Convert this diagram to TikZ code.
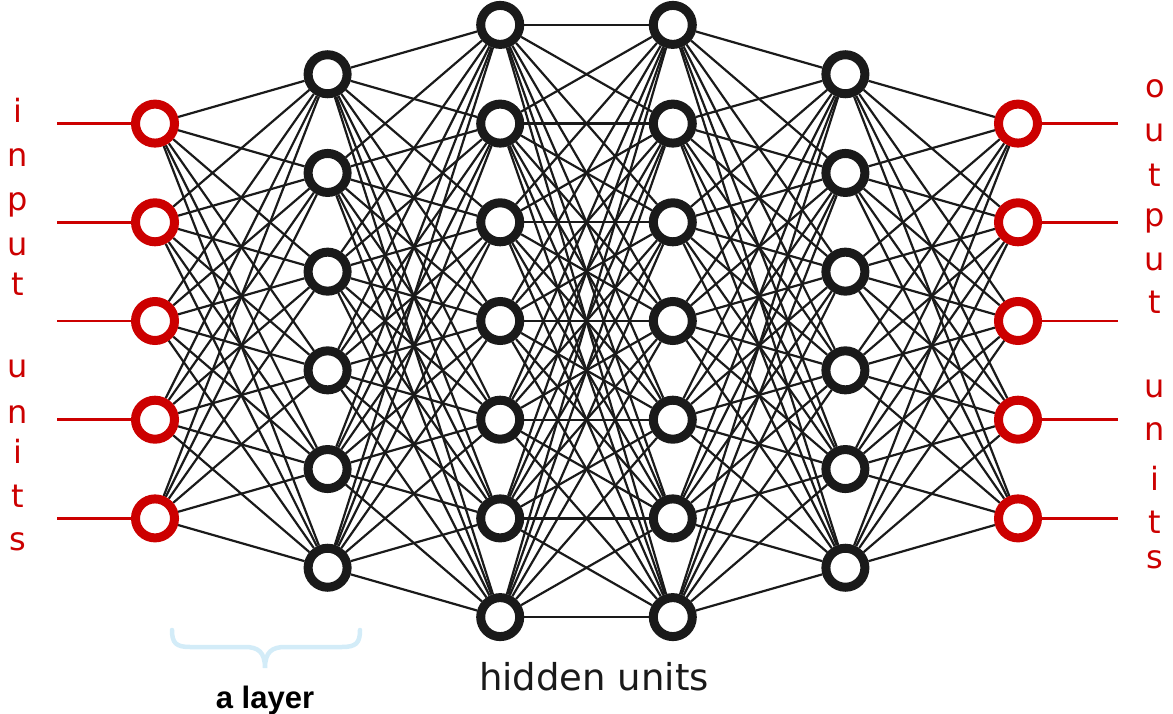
\documentclass[tikz,border=0pt]{standalone}
\usepackage{fontspec}
\setmainfont{DejaVu Sans}
\newfontfamily\layerfont{Liberation Sans}
\usetikzlibrary{backgrounds}
\definecolor{ink}{HTML}{1A1A1A}
\definecolor{unitred}{HTML}{CC0000}
\definecolor{bracecol}{HTML}{D3ECF8}

\begin{document}
\begin{tikzpicture}[x=1pt, y=-1pt,
  unit/.style={circle, draw=ink, line width=9pt, fill=white, minimum size=39pt, inner sep=0pt},
  iounit/.style={unit, draw=unitred},
  link/.style={ink, line width=2.2pt},
  feed/.style={unitred, line width=2.5pt},
  letter/.style={unitred, font=\fontsize{32}{32}\selectfont, inner sep=0pt, anchor=base}]
\useasboundingbox (0,0) rectangle (1173,714);

% units, layer by layer
\foreach \n/\s [count=\l] in {5/iounit, 6/unit, 7/unit, 7/unit, 6/unit, 5/iounit}
  \foreach \k in {1,...,\n}
    \node[\s] (u\l-\k) at ({155+(\l-1)*172.6}, {321+(\k-(\n+1)/2)*98.7}) {};

% every unit feeds every unit of the next layer
\begin{scope}[on background layer]
\foreach \a/\na/\b/\nb in {1/5/2/6, 2/6/3/7, 3/7/4/7, 4/7/5/6, 5/6/6/5}
  \foreach \i in {1,...,\na}
    \foreach \j in {1,...,\nb}
      \draw[link] (u\a-\i) -- (u\b-\j);
\end{scope}

% input and output lines
\foreach \k in {1,...,5} {
  \coordinate (in\k) at (57, {321+(\k-3)*98.7});
  \coordinate (out\k) at (1118, {321+(\k-3)*98.7});
  \draw[feed] (in\k) -- (u1-\k);
  \draw[feed] (u6-\k) -- (out\k);
}

% vertical labels
\foreach \c/\y [count=\i] in {i/123, n/167, p/211, u/255, t/295, u/377, n/423, i/463, t/507, s/550}
  \node[letter] (inl\i) at (18,\y) {\c};
\foreach \c/\y [count=\i] in {o/98, u/142, t/187, p/227, u/270, t/313, u/397, n/440, i/490, t/533, s/568}
  \node[letter] (outl\i) at (1155,\y) {\c};

% the brace under one layer
\draw[bracecol, line width=4.5pt, line cap=round]
  (172,630) .. controls (172,643) and (176,647) .. (190,647) -- (245,647)
  .. controls (258,647) and (265,652) .. (265,668)
  .. controls (265,652) and (272,647) .. (285,647) -- (342,647)
  .. controls (356,647) and (360,643) .. (360,630);

\node[anchor=base, inner sep=0pt, font=\layerfont\bfseries\fontsize{31}{31}\selectfont] (layer) at (265,708) {a layer};
\node[anchor=base, inner sep=0pt, ink, font=\fontsize{37}{37}\selectfont] (hidden) at (594,690) {hidden units};
\end{tikzpicture}
\end{document}
